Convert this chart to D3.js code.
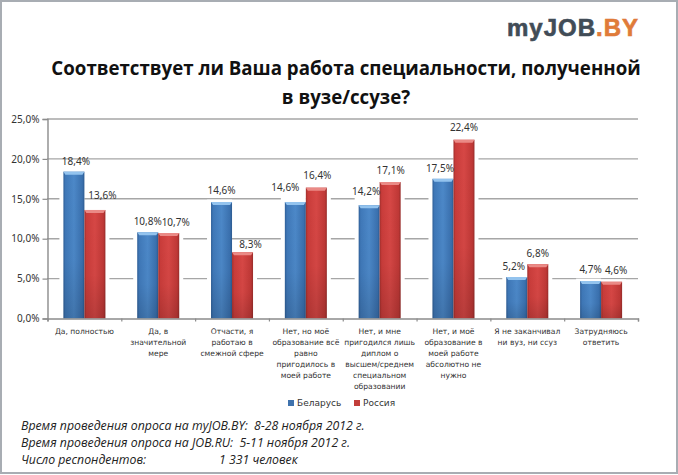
<!DOCTYPE html>
<html><head><meta charset="utf-8">
<script src="https://cdn.jsdelivr.net/npm/d3@7"></script>
<style>html,body{margin:0;padding:0;background:#fff;overflow:hidden}svg{display:block}</style>
</head><body><svg id="c" width="678" height="475"></svg>
<script>
const categories=["Да, полностью","Да, в значительной мере","Отчасти, я работаю в смежной сфере","Нет, но моё образование всё равно пригодилось в моей работе","Нет, и мне пригодился лишь диплом о высшем/среднем специальном образовании","Нет, и моё образование в моей работе абсолютно не нужно","Я не заканчивал ни вуз, ни ссуз","Затрудняюсь ответить"];
const categoryLines=[["Да, полностью"],["Да, в","значительной","мере"],["Отчасти, я","работаю в","смежной сфере"],["Нет, но моё","образование всё","равно","пригодилось в","моей работе"],["Нет, и мне","пригодился лишь","диплом о","высшем/среднем","специальном","образовании"],["Нет, и моё","образование в","моей работе","абсолютно не","нужно"],["Я не заканчивал","ни вуз, ни ссуз"],["Затрудняюсь","ответить"]];
const seriesNames=["Беларусь","Россия"];
const belarus=[18.4,10.8,14.6,14.6,14.2,17.5,5.2,4.7];
const russia=[13.6,10.7,8.3,16.4,17.1,22.4,6.8,4.6];
const yTicks=[0,5,10,15,20,25];
const titleLines=["Соответствует ли Ваша работа специальности, полученной","в вузе/ссузе?"];
const footerLines=[["Время проведения опроса на myJOB.BY:  8-28 ноября 2012 г."],["Время проведения опроса на JOB.RU:  5-11 ноября 2012 г."],["Число респондентов:","1 331 человек"]];

const ru=d3.formatLocale({decimal:",",thousands:" ",grouping:[3],currency:["",""]});
const pct=v=>ru.format(".1f")(v)+"%";
const svg=d3.select("#c");
const W=678,H=475;
const sans="'DejaVu Sans',sans-serif", noto="'Noto Sans',sans-serif";
const defs=svg.append("defs");
function grad(id,stops,vertical){const g=defs.append("linearGradient").attr("id",id).attr("x1",0).attr("x2",vertical?0:1).attr("y1",0).attr("y2",vertical?1:0);
 stops.forEach(s=>g.append("stop").attr("offset",s[0]).attr("stop-color",s[1]).attr("stop-opacity",s[2]===undefined?1:s[2]));}
grad("gb",[[0,"#2f5f98"],[.1,"#3f78b8"],[.5,"#4c88c8"],[.9,"#3a70ae"],[1,"#2c5a90"]]);
grad("gr",[[0,"#a02f2c"],[.1,"#c93c3a"],[.5,"#d64745"],[.9,"#bf3836"],[1,"#982c2a"]]);
grad("shade",[[0,"#000",0],[.6,"#000",0.02],[1,"#000",0.14]],true);
const fills=["url(#gb)","url(#gr)"],tops=["#93c3ee","#ea8a86"],leg=["#3f72ad","#c23e3a"];

svg.append("rect").attr("x",1).attr("y",1).attr("width",W-2).attr("height",H-3).attr("fill","#fff").attr("stroke","#a8adb3").attr("stroke-width",2);

// logo
const logo=svg.append("text").attr("x",639).attr("y",36).attr("text-anchor","end").attr("font-family","'Liberation Sans',sans-serif").attr("font-weight","bold").attr("font-size",24).attr("letter-spacing",1).attr("stroke-width",0.6);
logo.append("tspan").attr("fill","#414c57").attr("stroke","#414c57").text("myJOB");
logo.append("tspan").attr("fill","#e07b39").attr("stroke","#e07b39").text(".BY");

// title
svg.selectAll("text.t").data(titleLines).join("text").attr("class","t")
 .attr("x",346).attr("y",(d,i)=>75+i*28.5).attr("text-anchor","middle")
 .attr("font-family","'Open Sans',sans-serif").attr("font-weight",700).attr("font-size",18.7).attr("fill","#111").text(d=>d);

const y=d3.scaleLinear().domain([0,25]).range([318.5,119]);
const x0=d3.scaleBand().domain(categories).range([47.5,638]);
const barW=21;

// grid
svg.append("g").selectAll("line").data(yTicks.filter(t=>t>0)).join("line")
 .attr("x1",47).attr("x2",638).attr("y1",d=>y(d)).attr("y2",d=>y(d)).attr("stroke","#a6a6a6").attr("stroke-width",1.4);

// bars
const rows=categories.map((c,i)=>({c,vals:[belarus[i],russia[i]]}));
const grp=svg.append("g").selectAll("g").data(rows).join("g").attr("transform",d=>`translate(${x0(d.c)+x0.bandwidth()/2},0)`);
const x1=d3.scaleBand().domain([0,1]).range([-barW,barW]);
const bw=x1.bandwidth();
[0,1].forEach(k=>{
 // white glow that interrupts the gridlines next to a bar
 const margin=d=>(k===0&&d.vals[1]>d.vals[0])?8:2.4;
 grp.append("rect").attr("x",k===0?x1(0)-4:x1(1)).attr("width",bw+4)
  .attr("y",d=>y(d.vals[k])-margin(d)).attr("height",d=>y(0)-y(d.vals[k])+margin(d)).attr("fill","#fff");
});
[0,1].forEach(k=>{
 grp.append("rect").attr("x",x1(k)).attr("width",bw).attr("y",d=>y(d.vals[k])).attr("height",d=>y(0)-y(d.vals[k])).attr("fill",fills[k]);
 grp.append("rect").attr("x",x1(k)).attr("width",bw).attr("y",d=>y(d.vals[k])).attr("height",d=>y(0)-y(d.vals[k])).attr("fill","url(#shade)");
 grp.append("path").attr("fill",tops[k]).attr("d",d=>{
   const t=y(d.vals[k]),l=x1(k),p=d3.path();
   p.moveTo(l,t);p.lineTo(l+bw,t);p.lineTo(l+bw-2,t+3);p.lineTo(l+2,t+3);p.closePath();return p.toString();});
});

// axes
const yAxis=d3.axisLeft(y).tickValues(yTicks).tickSize(5).tickFormat(pct);
const gy=svg.append("g").attr("transform","translate(47.5,0)").call(yAxis);
const xAxis=d3.axisBottom(d3.scaleLinear().domain([0,categories.length]).range([47.5,638])).tickValues(d3.range(categories.length+1)).tickSize(3).tickFormat("");
const gx=svg.append("g").attr("transform","translate(0,318.5)").call(xAxis);
[gy,gx].forEach(g=>{g.selectAll("path,line").attr("stroke","#8c8c8c").attr("stroke-width",1.2);g.select("path").attr("stroke-width",1.4)});
gy.selectAll("text").attr("font-family",noto).attr("font-size",10).attr("fill","#333").attr("x",-8);

// value labels: hand-placed in the original chart, so each has its own nudge from the bar's top centre
const labelNudge=[
 [[2,-6.5],[7.5,-10.5]],[[0,-7.5],[7,-7.5]],[[0,-7.5],[8,-4.5]],[[-10,-10.5],[1,-8.5]],
 [[-3,-10.5],[0.5,-8.5]],[[-3,-7],[0,-8.5]],[[-3,-7.5],[0,-7.5]],[[0,-7.5],[4.5,-7.5]]];
[0,1].forEach(k=>{
 grp.append("text").attr("x",(d,i)=>x1(k)+bw/2+labelNudge[i][k][0]).attr("y",(d,i)=>y(d.vals[k])+labelNudge[i][k][1]).attr("text-anchor","middle")
  .attr("font-family",noto).attr("font-size",10).attr("fill","#333").text(d=>pct(d.vals[k]));
});

// category labels
grp.each(function(d,i){
 d3.select(this).selectAll("text.c").data(categoryLines[i]).join("text").attr("class","c")
  .attr("x",0).attr("y",(l,j)=>334+j*11).attr("text-anchor","middle")
  .attr("font-family",sans).attr("font-size",7.6).attr("fill","#333").text(l=>l);
});

// legend
const legX=[288,354];
seriesNames.forEach((n,k)=>{
 svg.append("rect").attr("x",legX[k]).attr("y",400).attr("width",6).attr("height",6).attr("fill",leg[k]);
 svg.append("text").attr("x",legX[k]+9).attr("y",406).attr("font-family",sans).attr("font-size",9).attr("fill","#333").text(n);
});

// footer
const fg=svg.append("g").attr("font-family","'Open Sans',sans-serif").attr("font-style","italic").attr("font-size",12.3).attr("fill","#222");
const fx=[21,219];
footerLines.forEach((ln,i)=>ln.forEach((s,j)=>{
 fg.append("text").attr("x",fx[j]).attr("y",430+i*17).style("white-space","pre").text(s);
}));
</script></body></html>
